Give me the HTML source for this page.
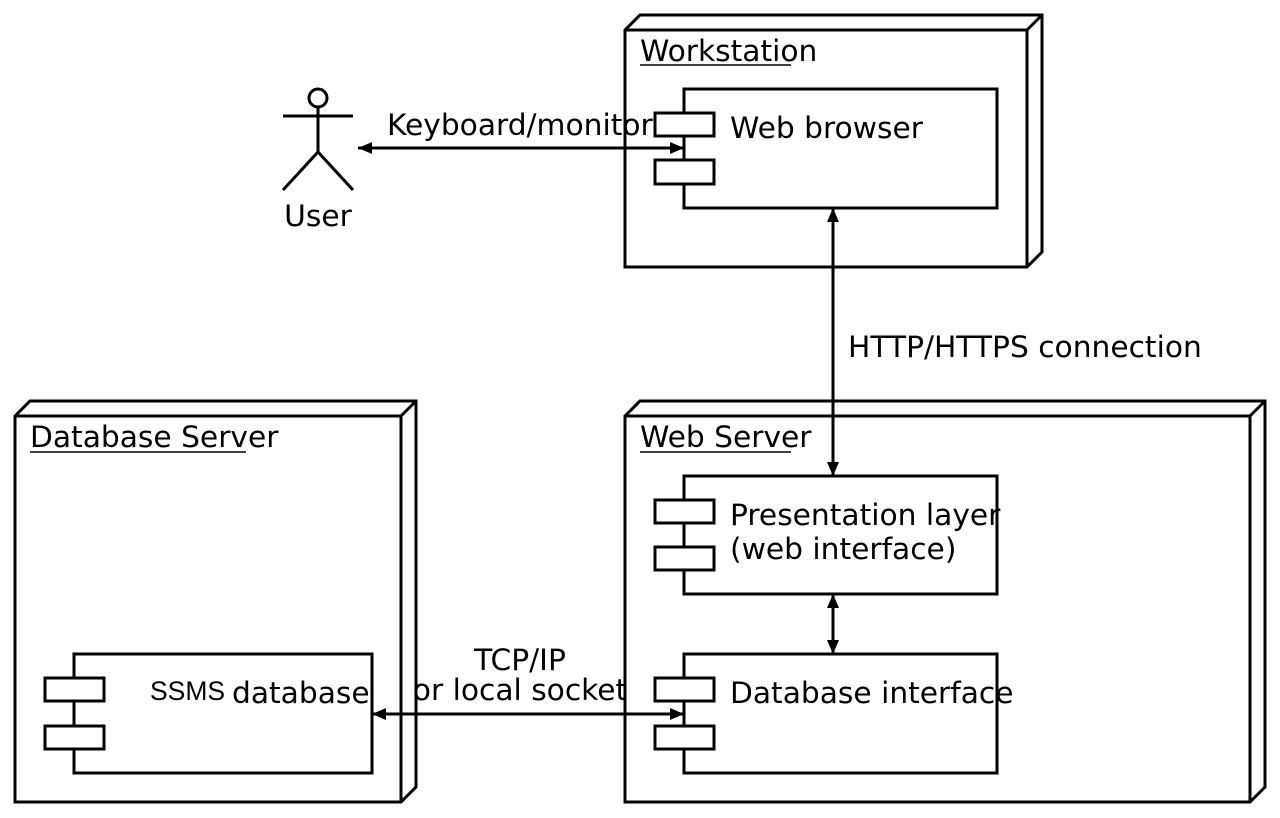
<!DOCTYPE html>
<html><head><meta charset="utf-8"><style>
html,body{margin:0;padding:0;background:#fff;}
svg{display:block;}
text{font-family:"DejaVu Sans",sans-serif;font-size:29.7px;fill:#000;}
</style></head><body>
<svg width="1280" height="818" viewBox="0 0 1280 818" xmlns="http://www.w3.org/2000/svg">
<defs>
<marker id="b" viewBox="0 0 14 12" refX="14" refY="6" markerWidth="14" markerHeight="12" orient="auto-start-reverse" markerUnits="userSpaceOnUse"><path d="M0,0 L14,6 L0,12 z" fill="#000"/></marker>
</defs>
<g fill="#fff" stroke="#000" stroke-width="3" stroke-linejoin="miter">
<polygon points="625,30 640,15 1042,15 1042,252 1027,267 625,267"/>
<polyline points="625,30 1027,30 1027,267" fill="none"/>
<line x1="1027" y1="30" x2="1042" y2="15"/>
<polygon points="15,416 30,401 416,401 416,787 401,802 15,802"/>
<polyline points="15,416 401,416 401,802" fill="none"/>
<line x1="401" y1="416" x2="416" y2="401"/>
<polygon points="625,416 640,401 1265,401 1265,787 1250,802 625,802"/>
<polyline points="625,416 1250,416 1250,802" fill="none"/>
<line x1="1250" y1="416" x2="1265" y2="401"/>
<rect x="684" y="89" width="313" height="119"/>
<rect x="655" y="113" width="59" height="23"/>
<rect x="655" y="160" width="59" height="24"/>
<rect x="684" y="476" width="313" height="118"/>
<rect x="655" y="500" width="59" height="23"/>
<rect x="655" y="547" width="59" height="23"/>
<rect x="684" y="654" width="313" height="119"/>
<rect x="655" y="678" width="59" height="23"/>
<rect x="655" y="726" width="59" height="23"/>
<rect x="74" y="654" width="298" height="119"/>
<rect x="45" y="678" width="59" height="23"/>
<rect x="45" y="726" width="59" height="23"/>
<circle cx="318" cy="98" r="9"/>
<line x1="318" y1="107" x2="318" y2="152"/>
<line x1="283" y1="116" x2="353" y2="116"/>
<polyline points="283,190 318,152 353,190" fill="none"/>
<line x1="640" y1="65" x2="791" y2="65" stroke-width="1.5"/>
<line x1="30" y1="452" x2="246" y2="452" stroke-width="1.5"/>
<line x1="640" y1="452" x2="791" y2="452" stroke-width="1.5"/>
</g>
<g stroke="#000" stroke-width="3" fill="none">
<line x1="358" y1="148" x2="684" y2="148" marker-start="url(#b)" marker-end="url(#b)"/>
<line x1="833" y1="208" x2="833" y2="476" marker-start="url(#b)" marker-end="url(#b)"/>
<line x1="833" y1="594" x2="833" y2="654" marker-start="url(#b)" marker-end="url(#b)"/>
<line x1="372" y1="714" x2="684" y2="714" marker-start="url(#b)" marker-end="url(#b)"/>
</g>
<text x="640" y="61">Workstation</text>
<text x="30" y="447">Database Server</text>
<text x="640" y="447">Web Server</text>
<text x="730" y="138">Web browser</text>
<text x="730" y="525">Presentation layer</text>
<text x="730" y="559">(web interface)</text>
<text x="730" y="703">Database interface</text>
<text x="150" y="700" style="font-family:'Liberation Sans',sans-serif;font-size:26.5px">SSMS</text>
<text x="232" y="703">database</text>
<text x="318" y="226" text-anchor="middle">User</text>
<text x="387" y="135">Keyboard/monitor</text>
<text x="848" y="357">HTTP/HTTPS connection</text>
<text x="520" y="670" text-anchor="middle">TCP/IP</text>
<text x="520" y="700" text-anchor="middle">or local socket</text>
</svg>
</body></html>
